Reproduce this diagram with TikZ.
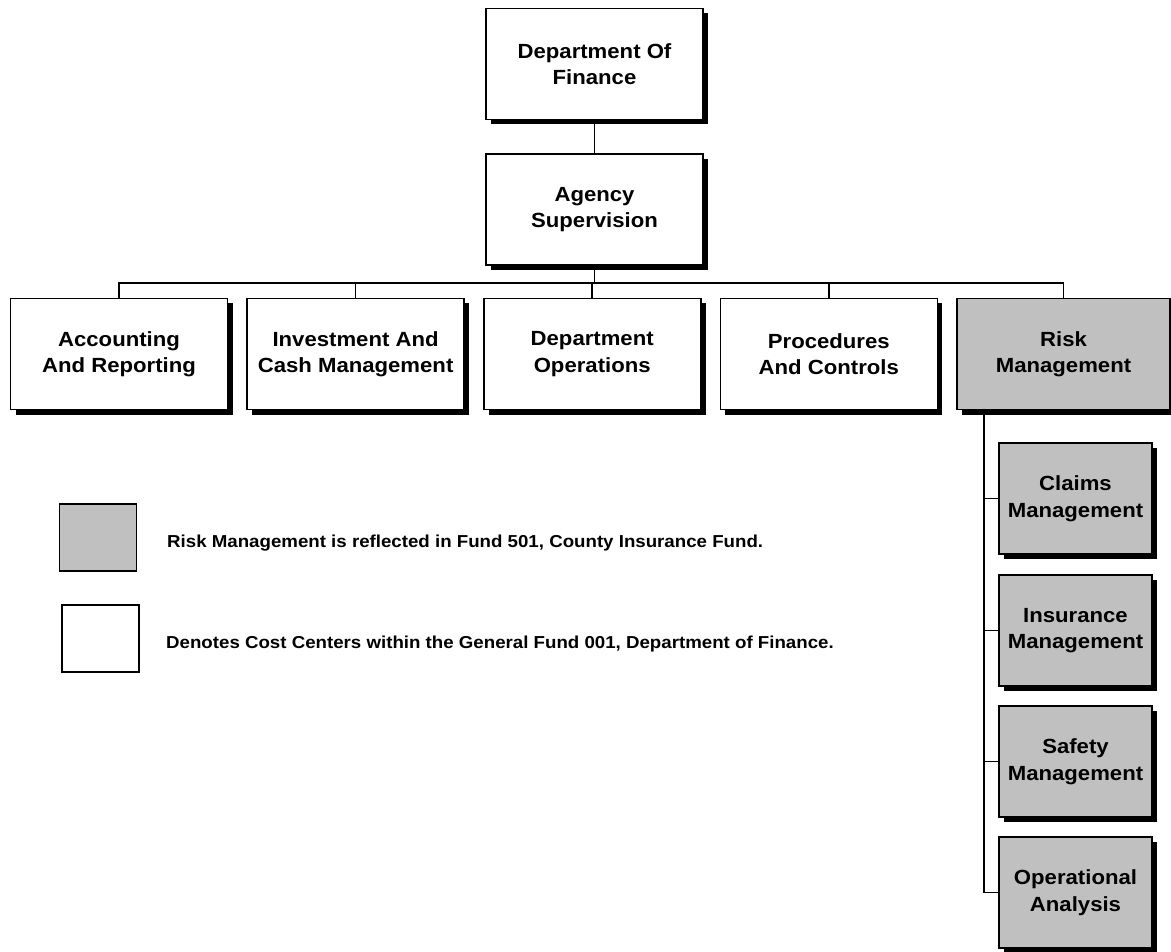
\documentclass[tikz,border=0pt]{standalone}
\usepackage{fontspec}
\setmainfont{Liberation Sans}[FakeStretch=1.08]
\usetikzlibrary{shadows}

\begin{document}
\begin{tikzpicture}[x=1pt, y=-1pt,
    unitbox/.style={draw, line width=1.6pt, fill=white, align=center, inner sep=1pt,
        minimum width=217pt, minimum height=111pt,
        font=\fontsize{20.5}{26.5}\selectfont\bfseries,
        drop shadow={opacity=1, fill=black, shadow xshift=5pt, shadow yshift=-5pt}},
    riskbox/.style={unitbox, fill=riskgray},
    subbox/.style={riskbox, minimum width=153pt},
    keybox/.style={draw, line width=1.2pt, minimum width=77pt, minimum height=67pt},
    keytext/.style={anchor=base west, inner sep=0pt, font=\fontsize{17.3}{20}\selectfont\bfseries},
    link/.style={line width=1.6pt}]
    \definecolor{riskgray}{RGB}{192,192,192}
    \useasboundingbox (0,0) rectangle (1171,952);
    % top boxes
    \node[unitbox] (fin) at (594.5, 64) {Department Of\\Finance};
    \node[unitbox] (sup) at (594.5, 209.5) {Agency\\Supervision};
    % row of divisions
    \node[unitbox] (acc) at (119, 354) {Accounting\\And Reporting};
    \node[unitbox] (inv) at (355.6, 354) {Investment And\\Cash Management};
    \node[unitbox] (ops) at (592.2, 354) {Department\\Operations};
    \node[unitbox] (proc) at (828.8, 354) {Procedures\\And Controls};
    \node[riskbox, minimum width=213pt] (risk) at (1063.5, 354) {Risk\\Management};
    % risk management sections
    \node[subbox] (claims) at (1075.5, 498.5) {Claims\\Management};
    \node[subbox] (ins) at (1075.5, 630.5) {Insurance\\Management};
    \node[subbox] (safe) at (1075.5, 761.5) {Safety\\Management};
    \node[subbox] (oper) at (1075.5, 892.5) {Operational\\Analysis};
    % connectors
    \coordinate (bus) at (594.5, 283);
    \coordinate (trunk) at (984, 410);
    \draw[link] (fin.south) -- (sup.north);
    \draw[link] (sup.south) -- (bus);
    \draw[link] (acc.north) |- (bus) -| (risk.north);
    \draw[link] (inv.north) -- (inv.north |- bus);
    \draw[link] (ops.north) -- (ops.north |- bus);
    \draw[link] (proc.north) -- (proc.north |- bus);
    \draw[link] (trunk) |- (oper.west);
    \draw[link] (claims.west) -- (claims.west -| trunk);
    \draw[link] (ins.west) -- (ins.west -| trunk);
    \draw[link] (safe.west) -- (safe.west -| trunk);
    % legend
    \node[keybox, fill=riskgray] (keyrisk) at (98, 537.5) {};
    \node[keybox, fill=white] (keygen) at (100.5, 638.5) {};
    \node[keytext] (txtrisk) at (167, 547) {Risk Management is reflected in Fund 501, County Insurance Fund.};
    \node[keytext] (txtgen) at (166, 648.5) {Denotes Cost Centers within the General Fund 001, Department of Finance.};
\end{tikzpicture}
\end{document}
